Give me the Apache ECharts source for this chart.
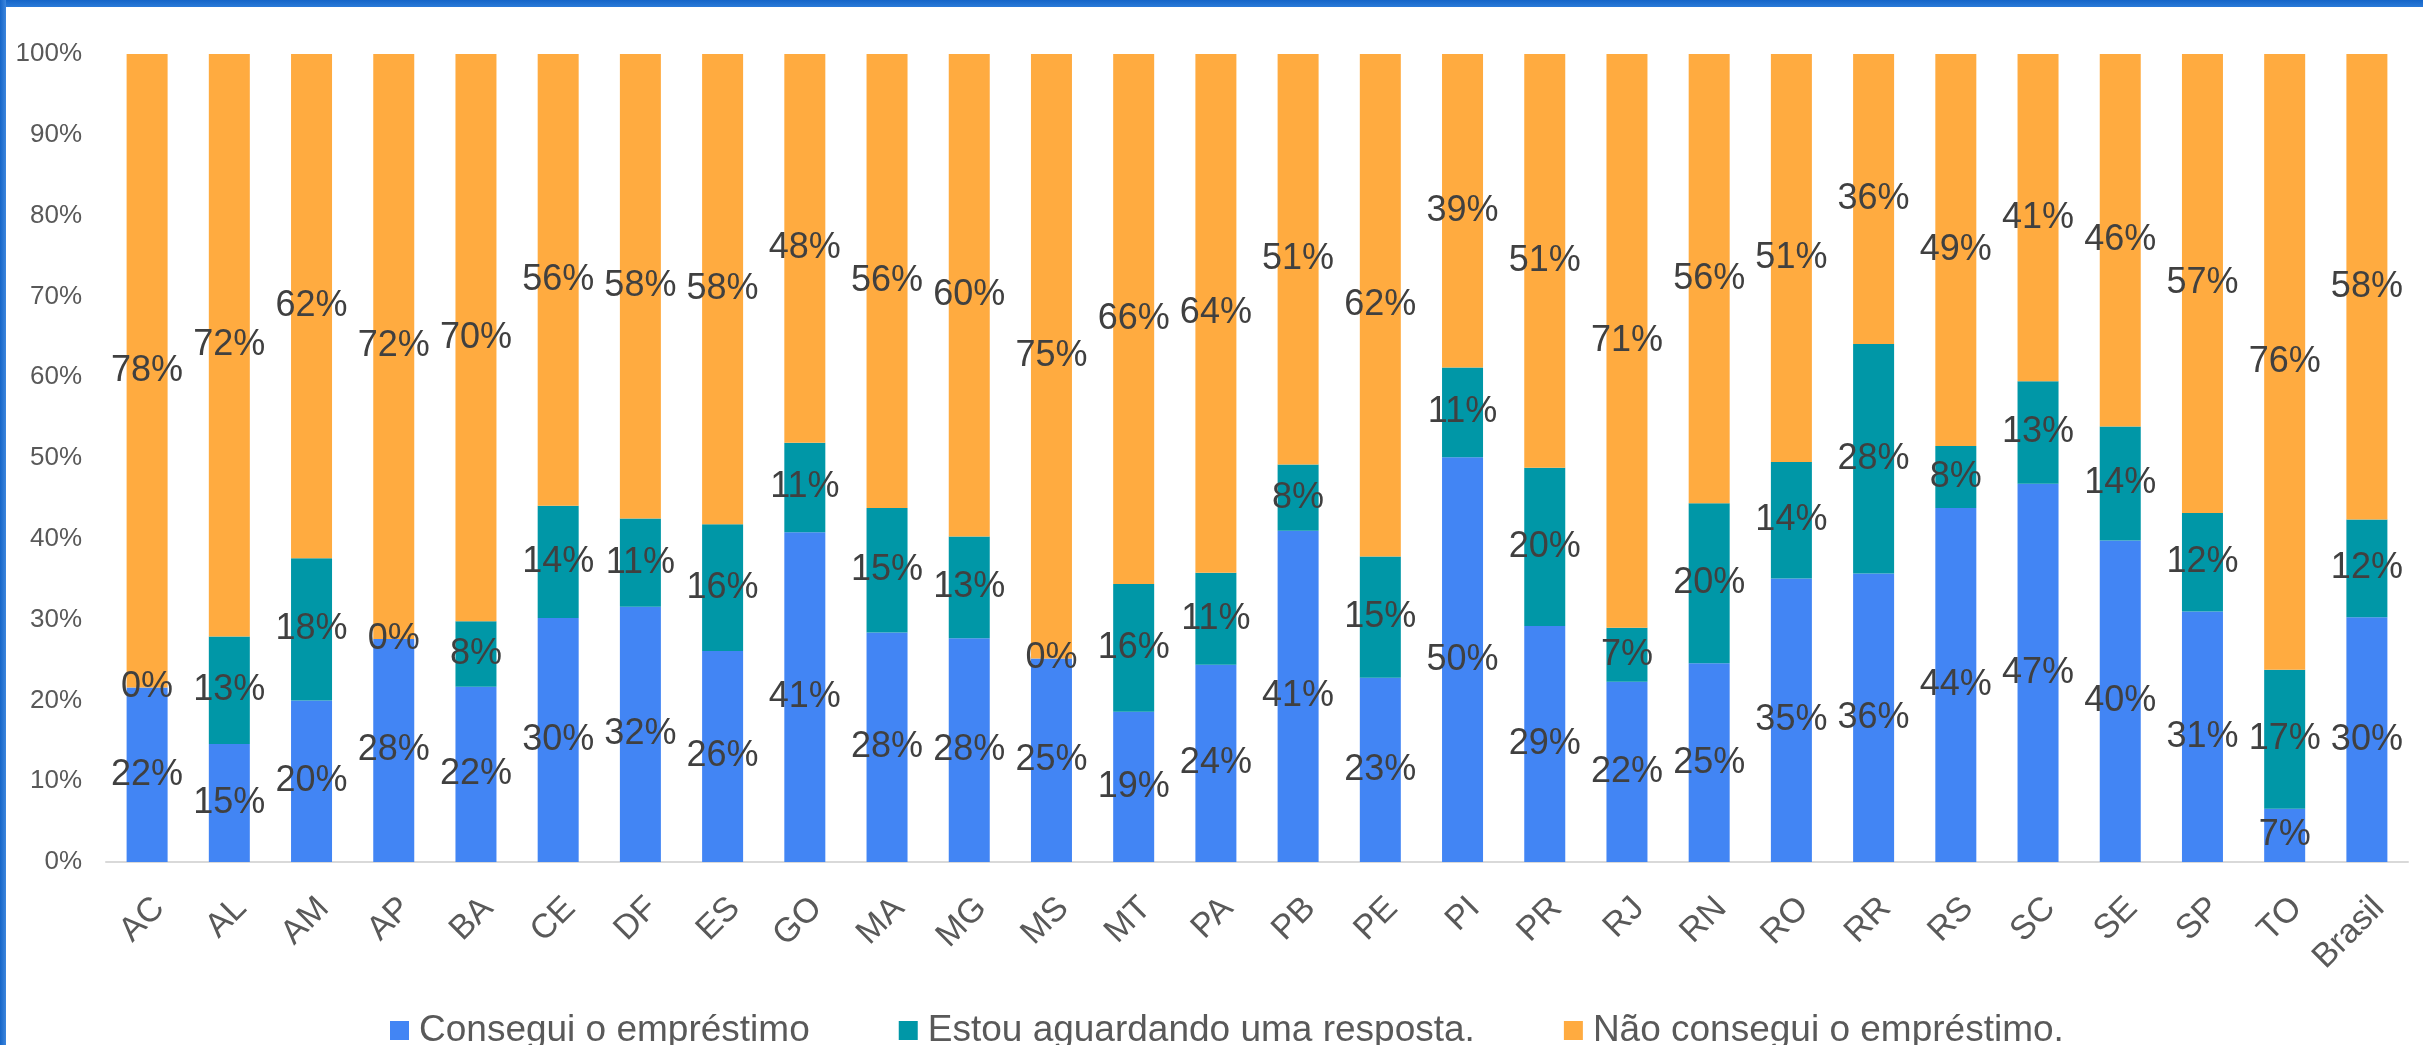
<!DOCTYPE html>
<html>
<head>
<meta charset="utf-8">
<script src="https://cdn.jsdelivr.net/npm/echarts@6/dist/echarts.min.js"></script>
<style>
  html, body { margin: 0; padding: 0; background: #ffffff; }
  #wrap { position: relative; width: 2423px; height: 1045px; overflow: hidden; background: #ffffff; }
  #chart { position: absolute; left: 0; top: 0; width: 2423px; height: 1045px; }
  #topBar { position: absolute; left: 0; top: 0; width: 2423px; height: 7px; background: linear-gradient(#1565c8, #2a7ad8); }
  #leftBar { position: absolute; left: 0; top: 0; width: 6px; height: 1045px; background: linear-gradient(90deg, #1565c8, #3d86dd); }
</style>
</head>
<body>
<div id="wrap">
  <div id="chart"></div>
  <div id="topBar"></div>
  <div id="leftBar"></div>
</div>
<script>
const categories = ['AC','AL','AM','AP','BA','CE','DF','ES','GO','MA','MG','MS','MT','PA','PB','PE','PI','PR','RJ','RN','RO','RR','RS','SC','SE','SP','TO','Brasil'];
// shares in %
const conseguiu    = [21.6,14.6,20.0,27.6,21.7,30.2,31.6,26.1,40.8,28.4,27.7,25.2,18.6,24.4,41.0,22.8,50.1,29.2,22.3,24.6,35.1,35.7,43.8,46.8,39.8,31.0,6.6,30.3];
const aguardando   = [0,13.3,17.6,0,8.1,13.9,10.9,15.7,11.1,15.4,12.6,0,15.8,11.4,8.2,15.0,11.1,19.6,6.7,19.8,14.4,28.4,7.7,12.7,14.1,12.2,17.2,12.1];
const naoConseguiu = [78.4,72.1,62.4,72.4,70.2,55.9,57.5,58.2,48.1,56.2,59.7,74.8,65.6,64.2,50.8,62.2,38.8,51.2,71.0,55.6,50.5,35.9,48.5,40.5,46.1,56.8,76.2,57.6];
const seriesNames = ['Consegui o empréstimo', 'Estou aguardando uma resposta.', 'Não consegui o empréstimo.'];
const seriesColors = ['#4285F4', '#0097A7', '#FFAB40'];

const FONT = "'Liberation Sans', Arial, sans-serif";
const chart = echarts.init(document.getElementById('chart'), null, { renderer: 'canvas' });

function mkSeries(name, data, color) {
  return {
    name: name,
    type: 'bar',
    stack: 'total',
    data: data,
    barWidth: 41,
    itemStyle: { color: color },
    label: {
      show: true,
      position: 'inside',
      fontSize: 36,
      fontFamily: FONT,
      color: '#404040',
      textBorderWidth: 0,
      formatter: p => Math.round(p.value) + '%'
    },
    emphasis: { disabled: true }
  };
}

chart.setOption({
  animation: false,
  backgroundColor: '#ffffff',
  textStyle: { fontFamily: FONT },
  grid: { left: 106, right: 15, top: 54, bottom: 183, containLabel: false },
  legend: {
    data: seriesNames,
    left: 385,
    top: 1007,
    itemWidth: 19,
    itemHeight: 19,
    itemGap: 89,
    icon: 'rect',
    textStyle: { fontSize: 37, color: '#595959', fontFamily: FONT, padding: [0, 0, 0, 5] }
  },
  xAxis: {
    type: 'category',
    data: categories,
    axisLine: { show: true, lineStyle: { color: '#D9D9D9', width: 2 } },
    axisTick: { show: false },
    axisLabel: { rotate: 45, fontSize: 34, color: '#595959', margin: 29, interval: 0, verticalAlign: 'top', align: 'right', fontFamily: FONT }
  },
  yAxis: {
    type: 'value',
    min: 0,
    max: 100,
    interval: 10,
    axisLine: { show: false },
    axisTick: { show: false },
    splitLine: { show: false },
    axisLabel: { formatter: '{value}%', fontSize: 26, color: '#595959', margin: 24, fontFamily: FONT }
  },
  series: [
    mkSeries(seriesNames[0], conseguiu, seriesColors[0]),
    mkSeries(seriesNames[1], aguardando, seriesColors[1]),
    mkSeries(seriesNames[2], naoConseguiu, seriesColors[2])
  ]
});
</script>
</body>
</html>
